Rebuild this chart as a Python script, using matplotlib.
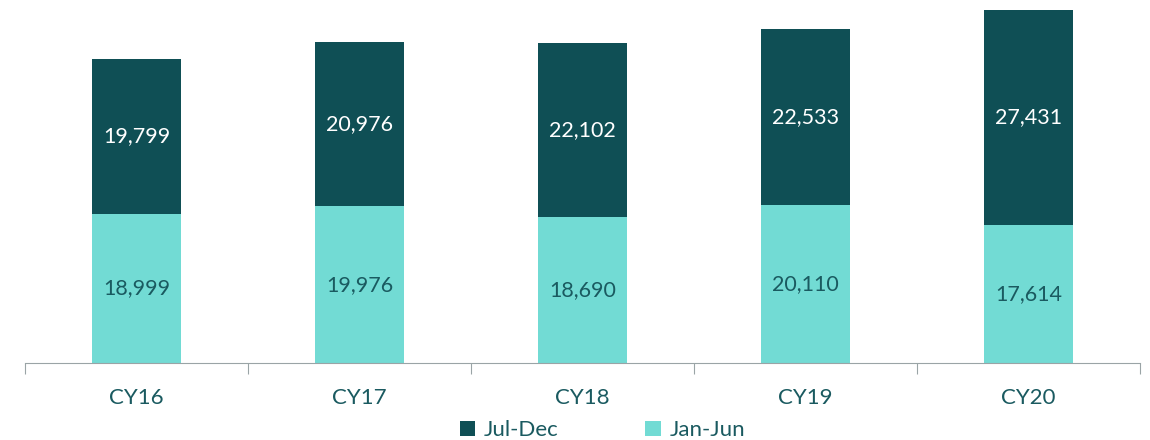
import matplotlib.pyplot as plt
import numpy as np

years = ['CY16', 'CY17', 'CY18', 'CY19', 'CY20']
jan_jun = [18999, 19976, 18690, 20110, 17614]
jul_dec = [19799, 20976, 22102, 22533, 27431]

dark = '#0f4f55'
light = '#72dbd4'
txt = '#1a5a60'

plt.rcParams['font.family'] = ['Lato', 'DejaVu Sans']

fig = plt.figure(figsize=(11.5, 4.4), dpi=100)
ax = fig.add_axes([0.0217, 0.175, 0.9696, 0.825])

x = np.arange(len(years))
w = 0.395
ax.bar(x, jan_jun, w, color=light, label='Jan-Jun')
ax.bar(x, jul_dec, w, bottom=jan_jun, color=dark, label='Jul-Dec')

for i in range(len(years)):
    ax.text(x[i], jan_jun[i] / 2, f'{jan_jun[i]:,}', ha='center', va='center',
            fontsize=15.5, color=txt)
    ax.text(x[i], jan_jun[i] + jul_dec[i] / 2, f'{jul_dec[i]:,}', ha='center',
            va='center', fontsize=15.5, color='white')

ax.set_xlim(-0.5, 4.5)
ax.set_ylim(0, 46325)
ax.set_yticks([])
for s in ['top', 'right', 'left']:
    ax.spines[s].set_visible(False)
ax.spines['bottom'].set_color('#9aa4a6')
ax.set_xticks(np.arange(-0.5, 5, 1))
ax.set_xticklabels([])
ax.set_xticks(x, minor=True)
ax.set_xticklabels(years, minor=True, fontsize=16, color=txt)
ax.tick_params(axis='x', which='major', length=8, color='#9aa4a6')
ax.tick_params(axis='x', which='minor', length=0, pad=18)

h, l = ax.get_legend_handles_labels()
fig.legend(h[::-1], l[::-1], loc='center', bbox_to_anchor=(0.524, 0.022),
           ncol=2, frameon=False, fontsize=16, labelcolor=txt,
           handlelength=0.7, handleheight=0.7, columnspacing=3.9, handletextpad=0.4)

fig.savefig('out.png', dpi=100)
